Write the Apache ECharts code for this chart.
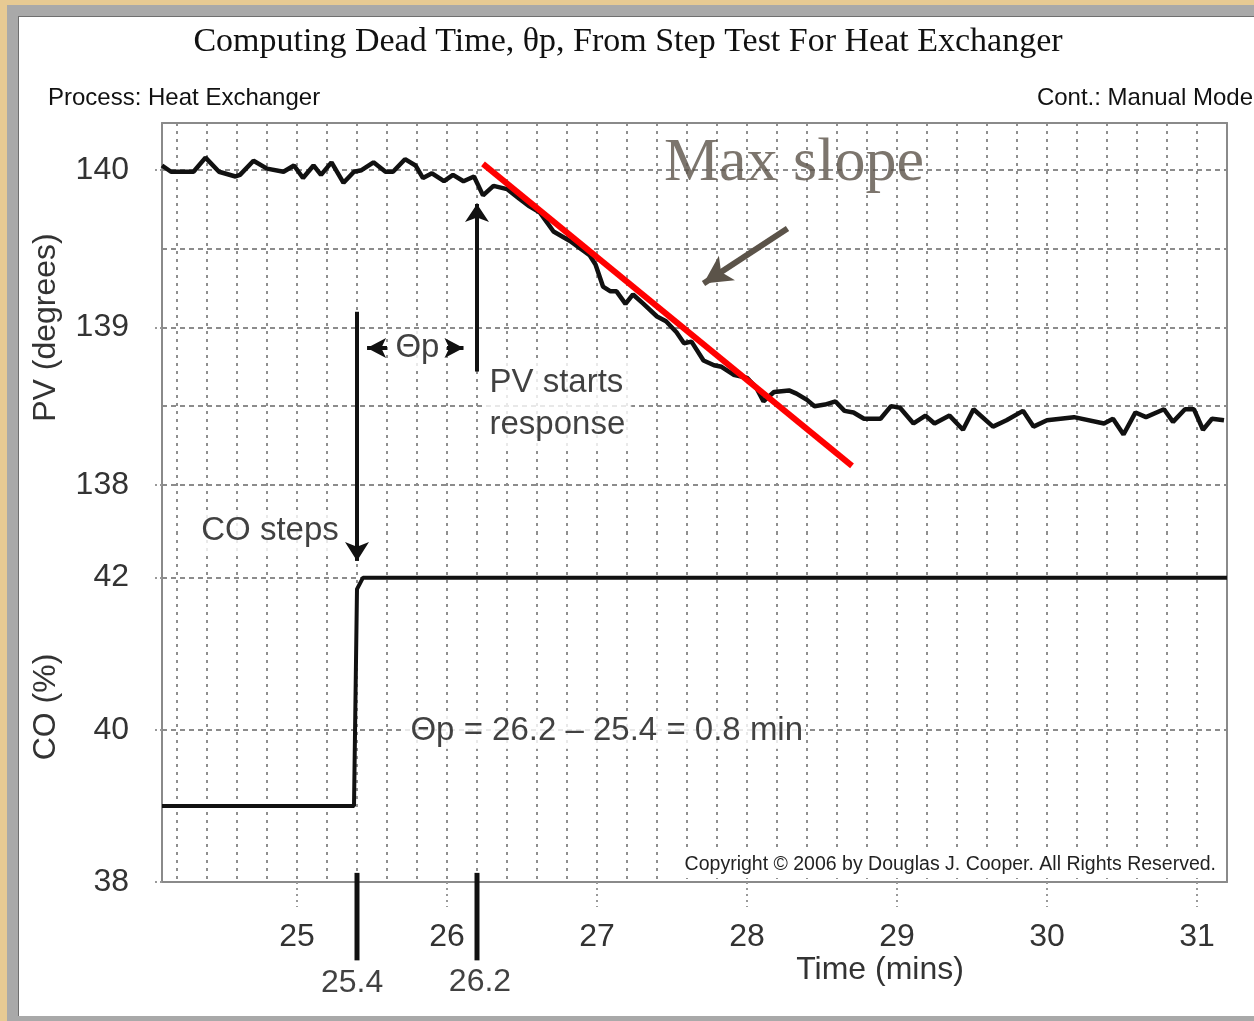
<!DOCTYPE html>
<html>
<head>
<meta charset="utf-8">
<title>Computing Dead Time</title>
<script src="https://cdn.jsdelivr.net/npm/echarts@6.0.0/dist/echarts.min.js"></script>
<style>
  html, body { margin: 0; padding: 0; }
  body { width: 1254px; height: 1021px; overflow: hidden; position: relative; background: #e7ca93; }
  #frame {
    position: absolute; left: 7px; top: 5px; width: 1270px; height: 1022px;
    box-sizing: border-box; background: #fff;
    border: 11px solid #a9a9a9;
    box-shadow: inset 1px 1px 0 #6f6f6f;
  }
  #chart { position: absolute; left: 0; top: 0; width: 1254px; height: 1021px; }
</style>
</head>
<body>
<div id="frame"></div>
<div id="chart"></div>
<script>
// axis ticks
const timeTicks = [25, 26, 27, 28, 29, 30, 31]
const pvTicks = [138, 139, 140]
const coTicks = [38, 40, 42]

// PV (degrees)
const pvTime = [
  24.10, 24.16, 24.31, 24.39, 24.48, 24.59, 24.62, 24.71, 24.80, 24.91,
  24.98, 25.04, 25.11, 25.16, 25.23, 25.31, 25.38, 25.43, 25.51, 25.59,
  25.64, 25.72, 25.79, 25.84, 25.90, 25.98, 26.04, 26.11, 26.18, 26.24,
  26.31, 26.40, 26.48, 26.55, 26.62, 26.71, 26.82, 26.95, 26.99, 27.04,
  27.09, 27.13, 27.19, 27.24, 27.31, 27.40, 27.46, 27.53, 27.58, 27.63,
  27.71, 27.78, 27.83, 27.91, 28.00, 28.06, 28.11, 28.18, 28.28, 28.33,
  28.40, 28.45, 28.52, 28.59, 28.65, 28.71, 28.78, 28.89, 28.96, 29.02,
  29.11, 29.19, 29.25, 29.35, 29.44, 29.51, 29.64, 29.73, 29.84, 29.91,
  30.00, 30.18, 30.38, 30.44, 30.51, 30.59, 30.66, 30.78, 30.84, 30.92,
  30.98, 31.04, 31.10, 31.18
]
const pvValue = [
  140.03, 139.99, 139.99, 140.08, 139.99, 139.96, 139.97, 140.06, 140.01, 139.99,
  140.03, 139.95, 140.03, 139.97, 140.05, 139.92, 139.99, 140.00, 140.05, 139.99,
  139.99, 140.07, 140.03, 139.95, 139.98, 139.93, 139.97, 139.93, 139.96, 139.84,
  139.90, 139.88, 139.82, 139.77, 139.73, 139.61, 139.55, 139.46, 139.40, 139.26,
  139.23, 139.23, 139.15, 139.21, 139.15, 139.07, 139.04, 138.97, 138.90, 138.91,
  138.79, 138.76, 138.75, 138.70, 138.68, 138.62, 138.53, 138.59, 138.60, 138.58,
  138.54, 138.50, 138.51, 138.53, 138.47, 138.46, 138.42, 138.42, 138.50, 138.49,
  138.39, 138.44, 138.39, 138.44, 138.35, 138.48, 138.37, 138.41, 138.47, 138.37,
  138.41, 138.43, 138.39, 138.42, 138.32, 138.46, 138.43, 138.48, 138.40, 138.48,
  138.48, 138.35, 138.42, 138.41
]

// CO (%) step
const coTime = [24.1, 25.38, 25.40, 25.44, 31.2]
const coValue = [39, 39, 41.85, 42, 42]

// red max-slope line
const slopeTime = [26.24, 28.70]
const slopeValue = [140.04, 138.12]

const stepTime = 25.4
const responseTime = 26.2

const black = '#111'
const gray = '#8a8a8a'
const sans = 'Liberation Sans'
const tickText = { fontFamily: sans, fontSize: 32, color: '#333' }
const noteText = { fontFamily: sans, fontSize: 33, color: black }

const zip = (xs, ys) => xs.map((x, i) => [x, ys[i]])

const chart = echarts.init(document.getElementById('chart'))

const axisLine = { show: true, onZero: false, lineStyle: { color: gray, width: 2 } }
const vSplit = { show: true, showMinLine: false, showMaxLine: false, lineStyle: { color: '#8f8f8f', width: 2, type: [3, 5] } }
const hSplit = { show: true, showMinLine: false, showMaxLine: false, lineStyle: { color: '#8c8c8c', width: 2, type: [5, 4] } }
const yTick = { show: true, length: 10, lineStyle: { color: '#999', width: 2, type: [2, 3] } }
const hidden = { axisLine: { show: false }, axisTick: { show: false }, axisLabel: { show: false } }

// time axis: gridlines every 0.2 min
const timeGrid = (gi, pos) => Object.assign({
  type: 'value', gridIndex: gi, position: pos, min: 24.1, max: 31.2, splitNumber: 36, splitLine: vSplit
}, hidden)

// value axis carrying only the dashed gridlines
const valueGrid = (gi, range) => Object.assign({
  type: 'value', gridIndex: gi, position: 'left', splitLine: hSplit
}, range, hidden)

const border = (gi, range) => Object.assign({
  type: 'value', gridIndex: gi, position: 'right', axisLine,
  axisTick: { show: false }, axisLabel: { show: false }, splitLine: { show: false }
}, range)

const pvRange = { min: 137.7, max: 140.3, splitNumber: 5 }
const coRange = { min: 38, max: 42.6, interval: 2 }

function note(name, value, label) {
  return { name, value, label: Object.assign({ show: true, formatter: '{b}', position: 'inside' }, noteText, label) }
}

const arrowLines = (xi, yi, lines) => ({
  type: 'line', xAxisIndex: xi, yAxisIndex: yi, data: [], silent: true, z: 4,
  markLine: {
    silent: true, animation: false, symbol: ['none', 'arrow'], symbolSize: 18,
    label: { show: false }, emphasis: { disabled: true },
    lineStyle: { color: black, width: 4, type: 'solid' },
    data: lines
  }
})

chart.setOption({
  animation: false,
  textStyle: { fontFamily: sans },
  grid: [
    { left: 162, right: 27, top: 123, height: 409 },
    { left: 162, right: 27, top: 532, height: 350 }
  ],
  xAxis: [
    Object.assign(timeGrid(0, 'top'), { axisLine }),
    {
      type: 'value', gridIndex: 1, position: 'bottom', min: 24.1, max: 31.2, splitNumber: 36,
      axisLine, splitLine: { show: false },
      axisTick: { show: true, customValues: timeTicks, length: 25, lineStyle: { color: '#999', width: 2, type: [2, 4] } },
      axisLabel: Object.assign({ customValues: timeTicks, margin: 39 }, tickText)
    },
    timeGrid(1, 'bottom')
  ],
  yAxis: [
    Object.assign({
      gridIndex: 0, type: 'value', position: 'left',
      name: 'PV (degrees)', nameLocation: 'middle', nameGap: 100, nameTextStyle: tickText,
      axisLine,
      axisTick: Object.assign({ customValues: pvTicks }, yTick),
      axisLabel: Object.assign({ customValues: pvTicks, margin: 33 }, tickText),
      splitLine: { show: false }
    }, pvRange),
    border(0, pvRange),
    Object.assign({
      gridIndex: 1, type: 'value', position: 'left',
      name: 'CO (%)', nameLocation: 'middle', nameGap: 100, nameTextStyle: tickText,
      axisLine,
      axisTick: Object.assign({ customValues: coTicks }, yTick),
      axisLabel: Object.assign({ customValues: coTicks, margin: 33 }, tickText),
      splitLine: { show: false }
    }, coRange),
    border(1, coRange),
    valueGrid(0, pvRange),
    valueGrid(1, coRange)
  ],
  series: [
    {
      name: 'PV', type: 'line', xAxisIndex: 0, yAxisIndex: 0, data: zip(pvTime, pvValue),
      showSymbol: false, silent: true, z: 3, lineStyle: { color: black, width: 4.5 }
    },
    {
      name: 'CO', type: 'line', xAxisIndex: 1, yAxisIndex: 2, data: zip(coTime, coValue),
      showSymbol: false, silent: true, z: 3, lineStyle: { color: black, width: 4 }
    },
    {
      name: 'Max slope', type: 'line', xAxisIndex: 0, yAxisIndex: 0, data: zip(slopeTime, slopeValue),
      showSymbol: false, silent: true, z: 4, lineStyle: { color: '#ff0000', width: 6 }
    },
    arrowLines(0, 0, [
      [{ coord: [stepTime, 139.1] }, { coord: [stepTime, 137.7], symbol: 'none' }],
      [{ coord: [responseTime, 138.72] }, { coord: [responseTime, 139.785], symbolSize: [18, 18] }],
      [{ coord: [25.6, 138.87] }, { coord: [25.467, 138.87], symbolSize: [15, 19] }],
      [{ coord: [26.0, 138.87] }, { coord: [26.11, 138.87], symbolSize: [15, 19] }],
      [{ coord: [28.27, 139.63] }, { coord: [27.71, 139.28], symbolSize: [22, 28], lineStyle: { color: '#5b5349', width: 6 } }]
    ]),
    arrowLines(1, 2, [
      [{ coord: [stepTime, 42.6] }, { coord: [stepTime, 42.22], symbolSize: [18, 19] }]
    ]),
    {
      type: 'line', xAxisIndex: 1, yAxisIndex: 2, clip: false, showSymbol: false, silent: true, z: 4,
      data: [[stepTime, 38.12], [stepTime, 36.97]], lineStyle: { color: black, width: 5 }
    },
    {
      type: 'line', xAxisIndex: 1, yAxisIndex: 2, clip: false, showSymbol: false, silent: true, z: 4,
      data: [[responseTime, 38.12], [responseTime, 36.97]], lineStyle: { color: black, width: 5 }
    },
    {
      type: 'scatter', xAxisIndex: 0, yAxisIndex: 0, clip: false, silent: true, z: 5,
      symbolSize: 1, itemStyle: { color: 'rgba(0,0,0,0)' },
      data: [
        note('Θp', [25.803, 138.87], { backgroundColor: '#fff', padding: [2, 3] }),
        note('PV starts\nresponse', [26.24, 138.514], { position: 'right', distance: 0, align: 'left', lineHeight: 42, backgroundColor: '#fff', padding: [4, 6] }),
        note('CO steps', [24.82, 137.71], { backgroundColor: '#fff', padding: [4, 4] }),
        note('Max slope', [28.313, 140.038], { fontFamily: 'Liberation Serif', fontSize: 62, color: '#5b5349' })
      ]
    },
    {
      type: 'scatter', xAxisIndex: 1, yAxisIndex: 2, clip: false, silent: true, z: 5,
      symbolSize: 1, itemStyle: { color: 'rgba(0,0,0,0)' },
      data: [
        note('Θp = 26.2 – 25.4 = 0.8 min', [25.713, 39.99], { position: 'right', distance: 0, align: 'left', backgroundColor: '#fff', padding: [2, 2, 2, 6] }),
        note('25.4', [25.367, 36.67], { fontSize: 32 }),
        note('26.2', [26.22, 36.685], { fontSize: 32 })
      ]
    }
  ],
  graphic: [
    { type: 'text', x: 628, y: 42, z: 10, style: { text: 'Computing Dead Time, θp, From Step Test For Heat Exchanger', font: '34px "Liberation Serif"', fill: black, align: 'center', verticalAlign: 'middle' } },
    { type: 'text', x: 48, y: 98, z: 10, style: { text: 'Process: Heat Exchanger', font: '24px "Liberation Sans"', fill: black, align: 'left', verticalAlign: 'middle' } },
    { type: 'text', x: 1253, y: 98, z: 10, style: { text: 'Cont.: Manual Mode', font: '24px "Liberation Sans"', fill: black, align: 'right', verticalAlign: 'middle' } },
    { type: 'text', x: 1218, y: 865, z: 10, style: { text: 'Copyright © 2006 by Douglas J. Cooper. All Rights Reserved.', font: '19.5px "Liberation Sans"', fill: '#222', align: 'right', verticalAlign: 'middle', backgroundColor: '#fff', padding: [3, 2] } },
    { type: 'text', x: 880, y: 970, z: 10, style: { text: 'Time (mins)', font: '32px "Liberation Sans"', fill: '#333', align: 'center', verticalAlign: 'middle' } }
  ]
})
</script>
</body>
</html>
